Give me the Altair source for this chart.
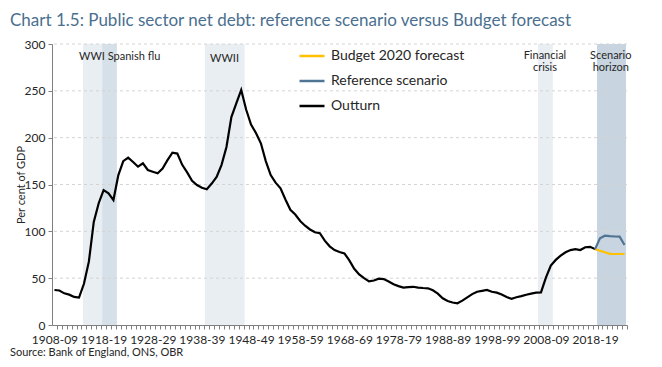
import altair as alt
import pandas as pd

# ---------------- data ----------------
outturn_years = list(range(1908, 2019))
outturn_values = [
    37.4, 36.8, 33.8, 32.4, 30.0, 29.2, 44.0, 67.6, 110.0, 130.0,   # 1908-1917
    144.0, 140.6, 133.4, 160.0, 175.0, 178.6, 174.0, 169.0, 172.6, 165.5,  # 1918-1927
    163.7, 162.0, 167.0, 176.0, 184.0, 183.0, 171.0, 163.0, 154.0, 149.5,  # 1928-1937
    146.6, 145.0, 151.0, 158.0, 171.0, 190.0, 222.0, 236.6, 251.0, 230.0,  # 1938-1947
    214.0, 205.0, 194.0, 175.0, 160.0, 152.0, 146.0, 134.0, 123.0, 118.0,  # 1948-1957
    111.0, 106.0, 102.0, 99.0, 98.0, 90.0, 84.0, 80.0, 78.0, 76.5,        # 1958-1967
    69.0, 60.0, 54.0, 50.0, 46.5, 47.5, 49.5, 49.0, 46.5, 43.5,           # 1968-1977
    41.5, 40.0, 40.5, 40.8, 40.0, 39.5, 39.2, 37.0, 33.5, 28.5,           # 1978-1987
    25.6, 24.0, 23.2, 26.0, 29.5, 33.0, 35.5, 36.5, 37.4, 35.5,           # 1988-1997
    34.5, 32.5, 29.8, 28.0, 29.6, 30.8, 32.3, 33.5, 34.5, 34.8,           # 1998-2007
    50.5, 63.5, 69.5, 74.0, 77.6, 80.0, 81.0, 80.0, 83.0, 83.5,           # 2008-2017
    81.0,                                                                 # 2018
]
forecast_years = list(range(2018, 2025))
budget_values = [81.0, 79.3, 77.6, 76.0, 75.8, 75.8, 75.8]
reference_values = [81.0, 92.5, 95.3, 94.8, 94.5, 94.3, 85.4]

series_names = ["Budget 2020 forecast", "Reference scenario", "Outturn"]
series_colors = ["#ffc000", "#4f7494", "#000000"]

band_names = ["WWI", "Spanish flu", "WWII", "Financial crisis", "Scenario horizon"]
band_start = [1913.8, 1917.7, 1938.6, 2006.4, 2018.4]
band_end = [1917.7, 1920.7, 1946.7, 2009.4, 2024.3]
band_fill = ["#e9eef2", "#d6e0e8", "#e9eef2", "#e9eef2", "#c8d5e0"]

notes_left_text = ["WWI Spanish flu"]
notes_left_x = [1913.0]
notes_left_y = [286.0]
notes_center_text = ["WWII", "Financial", "crisis", "Scenario", "horizon"]
notes_center_x = [1942.6, 2007.8, 2007.8, 2021.2, 2021.2]
notes_center_y = [284.0, 287.5, 274.4, 287.5, 274.4]

y_ticks = [0, 50, 100, 150, 200, 250, 300]
x_categories = list(range(1908, 2025))

TITLE = "Chart 1.5: Public sector net debt: reference scenario versus Budget forecast"
SOURCE = "Source: Bank of England, ONS, OBR"

# ---------------- tables ----------------
lines_df = pd.concat([
    pd.DataFrame({"year": outturn_years, "value": outturn_values, "series": "Outturn"}),
    pd.DataFrame({"year": forecast_years, "value": budget_values, "series": "Budget 2020 forecast"}),
    pd.DataFrame({"year": forecast_years, "value": reference_values, "series": "Reference scenario"}),
])
bands_df = pd.DataFrame({"name": band_names, "x1": band_start, "x2": band_end, "fill": band_fill})
notes_left_df = pd.DataFrame({"text": notes_left_text, "x": notes_left_x, "y": notes_left_y})
notes_center_df = pd.DataFrame({"text": notes_center_text, "x": notes_center_x, "y": notes_center_y})
grid_df = pd.DataFrame({"v": y_ticks[1:]})

FONT = "Lato"
W, H = 575, 281

xscale = alt.Scale(domain=[1907.5, 2024.5], nice=False, zero=False)
yscale = alt.Scale(domain=[0, 300], nice=False)

xaxis = alt.Axis(
    values=x_categories, title=None, grid=False,
    labelExpr="datum.value % 10 == 8 ? datum.value + '-' + substring(toString(datum.value + 1), 2, 4) : ''",
    labelOverlap=False, labelFontSize=12, labelFont=FONT, labelColor="#262626",
    tickSize=4, tickColor="#7f7f7f", domainColor="#7f7f7f", labelPadding=5,
    tickOffset=2.46, labelOffset=-2.46, labelFlush=False, labelBound=False)
yaxis = alt.Axis(
    values=y_ticks, title="Per cent of GDP", grid=False,
    labelFontSize=12, labelFont=FONT, labelColor="#262626",
    titleFont=FONT, titleFontSize=11, titleFontWeight="normal", titleColor="#262626",
    tickSize=4, tickColor="#7f7f7f", domainColor="#7f7f7f", labelPadding=3,
    titleX=-26, titleY=H / 2, titleAngle=270)

bands = alt.Chart(bands_df).mark_rect().encode(
    x=alt.X("x1:Q", scale=xscale, axis=xaxis),
    x2="x2:Q",
    y=alt.Y(datum=0, type="quantitative", scale=yscale, axis=yaxis),
    y2=alt.Y2(datum=300),
    fill=alt.Fill("fill:N", scale=None),
)

grid = alt.Chart(grid_df).mark_rule(color="#d4d4d4", strokeDash=[3, 3], strokeWidth=1).encode(
    y=alt.Y("v:Q", scale=yscale, axis=yaxis)
)

lines = alt.Chart(lines_df).mark_line(strokeWidth=2.2).encode(
    x=alt.X("year:Q", scale=xscale, axis=xaxis),
    y=alt.Y("value:Q", scale=yscale, axis=yaxis),
    color=alt.Color("series:N", scale=alt.Scale(domain=series_names, range=series_colors),
                    sort=series_names,
                    legend=alt.Legend(title=None, orient="none", legendX=246, legendY=-2,
                                      symbolType="stroke", symbolSize=625, symbolStrokeWidth=2.5,
                                      labelFontSize=14, labelFont=FONT, labelColor="#262626",
                                      rowPadding=4, labelOffset=5, padding=0)),
)

notes_left = alt.Chart(notes_left_df).mark_text(
    font=FONT, fontSize=11, color="#262626", baseline="middle", align="left"
).encode(x=alt.X("x:Q", scale=xscale, axis=xaxis), y=alt.Y("y:Q", scale=yscale, axis=yaxis), text="text:N")

notes_center = alt.Chart(notes_center_df).mark_text(
    font=FONT, fontSize=11, color="#262626", baseline="middle", align="center"
).encode(x=alt.X("x:Q", scale=xscale, axis=xaxis), y=alt.Y("y:Q", scale=yscale, axis=yaxis), text="text:N")

source = alt.Chart(pd.DataFrame({"t": [SOURCE]})).mark_text(
    font=FONT, fontSize=11, color="#262626", align="left", baseline="middle"
).encode(x=alt.value(-42), y=alt.value(H + 28), text="t:N")

chart = alt.layer(bands, grid, lines, notes_left, notes_center, source).properties(
    width=W, height=H,
    autosize=alt.AutoSizeParams(type="none"),
    padding={"left": 44, "top": 36, "right": 27, "bottom": 34},
    title=alt.TitleParams(TITLE, anchor="start", frame="group", dx=-42, offset=8,
                          font=FONT, fontSize=17, fontWeight="normal", color="#4a6f8f"),
).configure_view(stroke=None)

chart.save("out.html", embed_options={"renderer": "svg", "actions": False})
